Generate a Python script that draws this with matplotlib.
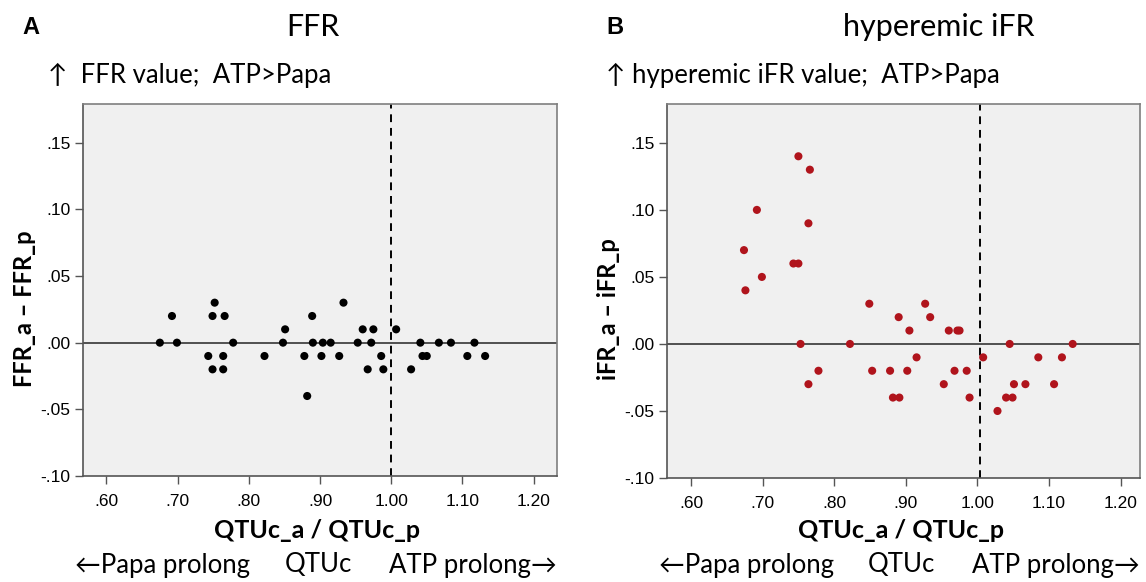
import numpy as np
import matplotlib.pyplot as plt

plt.rcParams['font.family'] = ['Liberation Sans', 'DejaVu Sans']
CAL = ['Lato', 'DejaVu Sans']  # Calibri-like text

# Panel A: FFR difference vs QTUc ratio
ffr_x = [0.675, 0.699, 0.778, 0.848, 0.890, 0.904, 0.915, 0.953, 0.972, 1.041, 1.067, 1.084, 1.117,
         0.851, 0.960, 0.975, 1.007,
         0.692, 0.749, 0.766, 0.889,
         0.752, 0.933,
         0.743, 0.764, 0.822, 0.878, 0.902, 0.927, 0.986, 1.044, 1.050, 1.107, 1.132,
         0.749, 0.764, 0.967, 0.989, 1.028,
         0.882]
ffr_y = [0.00] * 13 + [0.01] * 4 + [0.02] * 4 + [0.03] * 2 + [-0.01] * 11 + [-0.02] * 5 + [-0.04]

# Panel B: hyperemic iFR difference vs QTUc ratio
ifr_x = [0.750, 0.766, 0.692, 0.764, 0.674, 0.743, 0.750, 0.699, 0.676,
         0.849, 0.927,
         0.890, 0.934,
         0.905, 0.960, 0.972, 0.975,
         0.753, 0.822, 1.045, 1.133,
         0.915, 1.008, 1.085, 1.118,
         0.778, 0.853, 0.878, 0.902, 0.968, 0.985,
         0.764, 0.953, 1.051, 1.067, 1.107,
         0.882, 0.891, 0.989, 1.040, 1.049,
         1.028]
ifr_y = ([0.14, 0.13, 0.10, 0.09, 0.07, 0.06, 0.06, 0.05, 0.04]
         + [0.03] * 2 + [0.02] * 2 + [0.01] * 4 + [0.00] * 4 + [-0.01] * 4
         + [-0.02] * 6 + [-0.03] * 5 + [-0.04] * 5 + [-0.05])

xticks = [0.60, 0.70, 0.80, 0.90, 1.00, 1.10, 1.20]
xtick_labels = ['.60', '.70', '.80', '.90', '1.00', '1.10', '1.20']
yticks = [-0.10, -0.05, 0.00, 0.05, 0.10, 0.15]
ytick_labels = ['-.10', '-.05', '.00', '.05', '.10', '.15']

fig = plt.figure(figsize=(11.46, 5.82), dpi=100)
W, H = 1146, 582

panels = [
    dict(box=(83, 104, 557, 476), x=ffr_x, y=ffr_y, color='black', vline=1.000,
         xlim=(0.567, 1.233), letter='A', letter_x=22, title='FFR', title_x=313,
         sub='\u2191  FFR value;  ATP>Papa', sub_x=48, ylabel='FFR_a \u2013 FFR_p'),
    dict(box=(667, 104, 1140, 478), x=ifr_x, y=ifr_y, color='#b0141c', vline=1.003,
         xlim=(0.5665, 1.227), letter='B', letter_x=606, title='hyperemic iFR', title_x=939,
         sub='\u2191 hyperemic iFR value;  ATP>Papa', sub_x=606, ylabel='iFR_a \u2013 iFR_p'),
]

for p in panels:
    l, t, r, b = p['box']
    ax = fig.add_axes([l / W, (H - b) / H, (r - l) / W, (b - t) / H])
    ax.set_facecolor('#f0f0f0')
    ax.scatter(p['x'], p['y'], s=34, color=p['color'], edgecolors='none', zorder=3)
    ax.axhline(0, color='#444444', lw=1.3, zorder=2)
    ax.axvline(p['vline'], color='black', lw=1.4, ls=(0, (4, 3)), zorder=2)
    ax.set_xlim(*p['xlim'])
    ax.set_ylim(-0.10, 0.179)
    ax.set_xticks(xticks)
    ax.set_xticklabels(xtick_labels)
    ax.set_yticks(yticks)
    ax.set_yticklabels(ytick_labels)
    ax.tick_params(direction='out', length=6, width=1, color='#555555',
                   labelsize=12.5, pad=3)
    ax.tick_params(axis='x', pad=7)
    for s in ax.spines.values():
        s.set_color('#7f7f7f')
        s.set_linewidth(1.2)
    ax.spines['left'].set_color('#555555')
    ax.spines['bottom'].set_color('#555555')

    cx = (l + r) / 2
    fig.text((l - 58) / W, 1 - 309 / H, p['ylabel'], rotation=90, ha='center', va='center',
             fontsize=17, fontweight='bold', family=CAL)
    fig.text((cx - 3) / W, 1 - 530 / H, 'QTUc_a / QTUc_p', ha='center', va='center',
             fontsize=18, fontweight='bold', family=CAL)
    fig.text((l - 8) / W, 1 - 565 / H, '\u2190Papa prolong', ha='left', va='center',
             fontsize=18.5, family=CAL)
    fig.text((cx - 2) / W, 1 - 565 / H, 'QTUc', ha='center', va='center',
             fontsize=18.5, family=CAL)
    fig.text(r / W, 1 - 565 / H, 'ATP prolong\u2192', ha='right', va='center',
             fontsize=18.5, family=CAL)
    fig.text(p['letter_x'] / W, 1 - 28 / H, p['letter'], ha='left', va='center',
             fontsize=17, fontweight='bold')
    fig.text(p['title_x'] / W, 1 - 27 / H, p['title'], ha='center', va='center',
             fontsize=22, family=CAL)
    fig.text(p['sub_x'] / W, 1 - 75 / H, p['sub'], ha='left', va='center',
             fontsize=18.5, family=CAL)

fig.savefig('out.png', dpi=100)
